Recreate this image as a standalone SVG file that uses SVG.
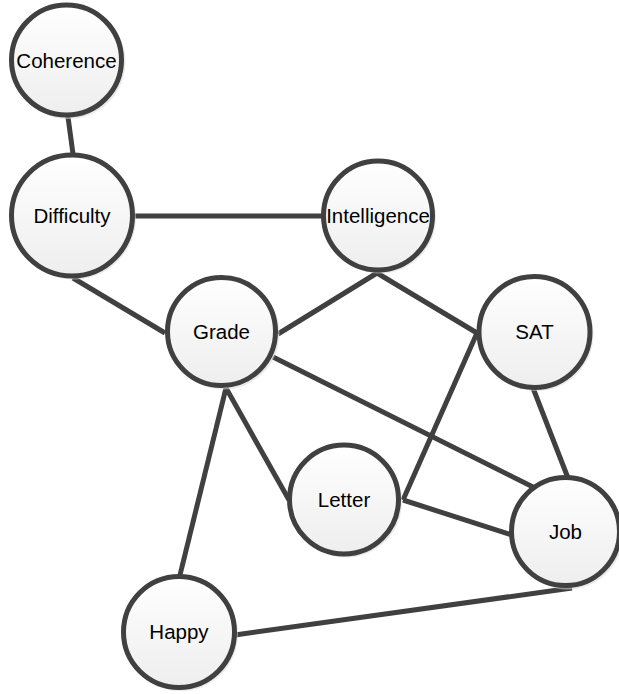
<svg xmlns="http://www.w3.org/2000/svg" width="619" height="694" viewBox="0 0 619 694">
  <style>
    .edge { stroke: #404040; stroke-width: 5; fill: none; stroke-linecap: butt; }
    .node { fill: url(#nodeFill); stroke: #404040; stroke-width: 5; }
    .shadow { fill: #d8d8d8; opacity: 0.55; }
    .label { font-family: "Liberation Sans", Arial, sans-serif; font-size: 20.5px; fill: #000; text-anchor: middle; }
  </style>
  <defs>
    <linearGradient id="nodeFill" x1="0" y1="0" x2="0" y2="1">
      <stop offset="0" stop-color="#ffffff"/>
      <stop offset="0.45" stop-color="#f7f7f7"/>
      <stop offset="1" stop-color="#eeeeee"/>
    </linearGradient>
  </defs>
  <rect width="619" height="694" fill="#ffffff"/>

  <g id="edges">
    <line class="edge" x1="68" y1="117" x2="73" y2="154"/>
    <line class="edge" x1="135" y1="216" x2="322" y2="216"/>
    <line class="edge" x1="73" y1="278" x2="165" y2="333"/>
    <line class="edge" x1="377" y1="273" x2="278" y2="334"/>
    <line class="edge" x1="377" y1="273" x2="477" y2="333"/>
    <line class="edge" x1="273" y1="357" x2="537" y2="489"/>
    <line class="edge" x1="226" y1="388" x2="289" y2="500"/>
    <line class="edge" x1="226" y1="388" x2="180" y2="575"/>
    <line class="edge" x1="477" y1="333" x2="403" y2="500"/>
    <line class="edge" x1="533" y1="388" x2="568" y2="478"/>
    <line class="edge" x1="403" y1="500" x2="512" y2="535"/>
    <line class="edge" x1="235" y1="635" x2="572" y2="588"/>
  </g>

  <g id="coherence">
    <circle class="shadow" cx="68.5" cy="62" r="57"/>
    <circle class="node" cx="66.5" cy="60" r="55"/>
    <text class="label" x="66.5" y="67.5">Coherence</text>
  </g>
  <g id="difficulty">
    <circle class="shadow" cx="74" cy="217.5" r="62"/>
    <circle class="node" cx="72" cy="215.5" r="60.5"/>
    <text class="label" x="72" y="223">Difficulty</text>
  </g>
  <g id="intelligence">
    <circle class="shadow" cx="380" cy="217.5" r="56"/>
    <circle class="node" cx="378" cy="215.5" r="54.5"/>
    <text class="label" x="378" y="223">Intelligence</text>
  </g>
  <g id="grade">
    <circle class="shadow" cx="223.5" cy="333.5" r="56"/>
    <circle class="node" cx="221.5" cy="331.5" r="54"/>
    <text class="label" x="221.5" y="338.5">Grade</text>
  </g>
  <g id="sat">
    <circle class="shadow" cx="536.5" cy="334" r="57"/>
    <circle class="node" cx="534.5" cy="332" r="55.5"/>
    <text class="label" x="534.5" y="339">SAT</text>
  </g>
  <g id="letter">
    <circle class="shadow" cx="346" cy="501.5" r="56"/>
    <circle class="node" cx="344" cy="499.5" r="54.5"/>
    <text class="label" x="344" y="506.5">Letter</text>
  </g>
  <g id="job">
    <circle class="shadow" cx="567.5" cy="533.5" r="56"/>
    <circle class="node" cx="565.5" cy="531.5" r="54"/>
    <text class="label" x="565.5" y="538.5">Job</text>
  </g>
  <g id="happy">
    <circle class="shadow" cx="181" cy="634" r="57"/>
    <circle class="node" cx="179" cy="632" r="55.5"/>
    <text class="label" x="179" y="639">Happy</text>
  </g>
</svg>
